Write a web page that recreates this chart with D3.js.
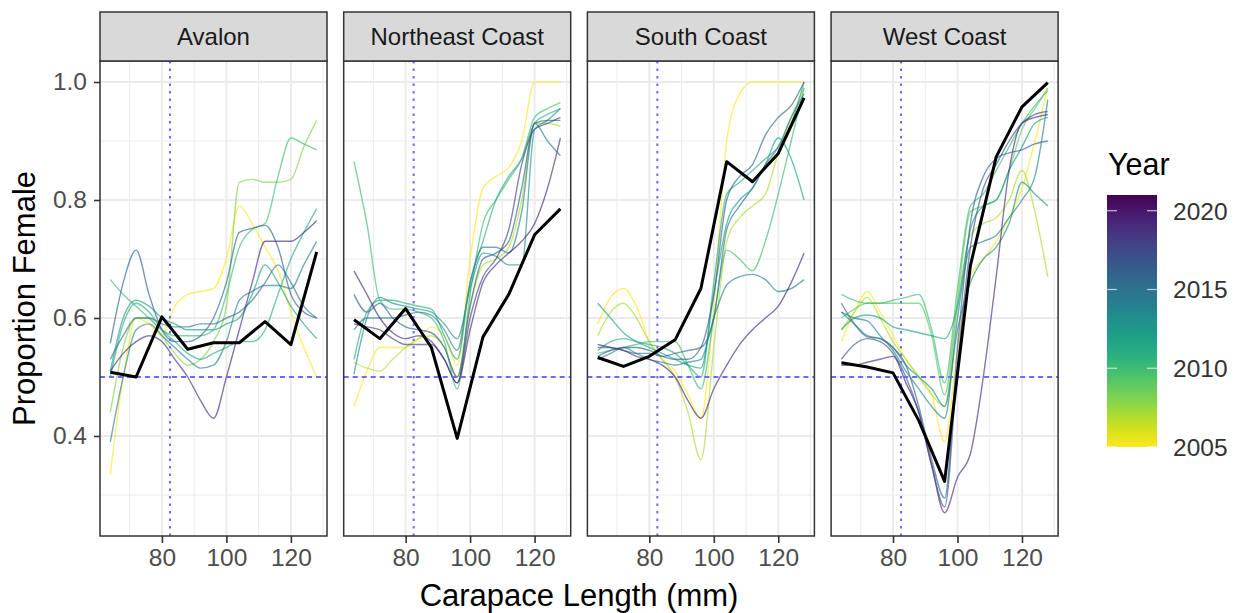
<!DOCTYPE html>
<html>
<head>
<meta charset="utf-8">
<script src="https://cdn.jsdelivr.net/npm/d3@7"></script>
<style>
  body { margin: 0; background: #fff; }
  svg { display: block; font-family: "Liberation Sans", Arial, sans-serif; }
</style>
</head>
<body>
<div id="chart"></div>
<script>
// carapace length bins
const lengthsByYear = [64, 68, 72, 76, 80, 84, 88, 92, 96, 100, 104, 108, 112, 116, 120, 124, 128];
const lengthsPooled = [64, 72, 80, 88, 96, 104, 112, 120, 128];

const regionNames = ["Avalon", "Northeast Coast", "South Coast", "West Coast"];

// Avalon
const avalonYears = [2005, 2008, 2010, 2011, 2012, 2014, 2015, 2016, 2019];
const avalonProps = [
  [0.335, 0.50, 0.60, 0.59, 0.57, 0.62, 0.64, 0.645, 0.65, 0.70, 0.79, 0.76, 0.72, 0.68, 0.61, 0.55, 0.50],
  [0.44, 0.55, 0.60, 0.60, 0.57, 0.54, 0.52, 0.53, 0.56, 0.62, 0.83, 0.835, 0.83, 0.83, 0.835, 0.89, 0.935],
  [0.665, 0.64, 0.62, 0.60, 0.58, 0.57, 0.57, 0.57, 0.58, 0.64, 0.72, 0.75, 0.76, 0.84, 0.905, 0.895, 0.885],
  [0.50, 0.59, 0.625, 0.61, 0.58, 0.56, 0.54, 0.53, 0.54, 0.55, 0.56, 0.56, 0.58, 0.64, 0.70, 0.745, 0.785],
  [0.51, 0.60, 0.63, 0.62, 0.60, 0.59, 0.58, 0.58, 0.58, 0.59, 0.60, 0.64, 0.69, 0.66, 0.62, 0.59, 0.565],
  [0.39, 0.50, 0.58, 0.59, 0.57, 0.55, 0.53, 0.515, 0.52, 0.56, 0.63, 0.645, 0.655, 0.655, 0.65, 0.69, 0.73],
  [0.53, 0.57, 0.60, 0.60, 0.59, 0.585, 0.585, 0.59, 0.59, 0.60, 0.61, 0.63, 0.66, 0.69, 0.66, 0.62, 0.60],
  [0.557, 0.66, 0.715, 0.64, 0.58, 0.56, 0.56, 0.57, 0.60, 0.66, 0.745, 0.752, 0.757, 0.72, 0.64, 0.61, 0.60],
  [0.51, 0.54, 0.56, 0.57, 0.56, 0.53, 0.50, 0.46, 0.43, 0.50, 0.58, 0.66, 0.73, 0.73, 0.73, 0.745, 0.765]
];
const avalonPooled = [0.508, 0.50, 0.602, 0.547, 0.558, 0.558, 0.594, 0.555, 0.712];

// Northeast Coast
const northeastYears = [2005, 2007, 2010, 2011, 2013, 2014, 2016, 2018, 2019];
const northeastProps = [
  [0.45, 0.51, 0.55, 0.55, 0.55, 0.565, 0.585, 0.57, 0.52, 0.70, 0.82, 0.84, 0.855, 0.90, 1.0, 1.0, 1.0],
  [0.525, 0.515, 0.51, 0.53, 0.55, 0.565, 0.57, 0.55, 0.50, 0.62, 0.69, 0.70, 0.72, 0.80, 0.93, 0.93, 0.925],
  [0.865, 0.76, 0.63, 0.615, 0.615, 0.61, 0.60, 0.56, 0.48, 0.64, 0.76, 0.80, 0.835, 0.87, 0.94, 0.955, 0.965],
  [0.53, 0.61, 0.63, 0.63, 0.625, 0.62, 0.615, 0.57, 0.53, 0.66, 0.73, 0.80, 0.84, 0.87, 0.93, 0.945, 0.955],
  [0.505, 0.60, 0.635, 0.625, 0.62, 0.615, 0.61, 0.59, 0.565, 0.65, 0.71, 0.705, 0.69, 0.69, 0.92, 0.935, 0.955],
  [0.58, 0.60, 0.60, 0.60, 0.605, 0.61, 0.605, 0.58, 0.545, 0.66, 0.72, 0.72, 0.71, 0.78, 0.93, 0.90, 0.875],
  [0.64, 0.61, 0.625, 0.60, 0.585, 0.58, 0.575, 0.55, 0.50, 0.62, 0.70, 0.71, 0.73, 0.82, 0.93, 0.935, 0.935],
  [0.59, 0.585, 0.58, 0.565, 0.555, 0.555, 0.555, 0.53, 0.49, 0.60, 0.67, 0.70, 0.75, 0.86, 0.92, 0.93, 0.94],
  [0.68, 0.64, 0.60, 0.575, 0.565, 0.57, 0.56, 0.53, 0.49, 0.58, 0.66, 0.69, 0.71, 0.73, 0.76, 0.82, 0.905]
];
const northeastPooled = [0.597, 0.565, 0.616, 0.55, 0.396, 0.568, 0.64, 0.741, 0.785];

// South Coast
const southYears = [2005, 2007, 2010, 2011, 2012, 2014, 2015, 2016, 2019];
const southProps = [
  [0.59, 0.635, 0.65, 0.62, 0.56, 0.53, 0.51, 0.47, 0.43, 0.62, 0.90, 0.98, 1.0, 1.0, 1.0, 1.0, 1.0],
  [0.57, 0.61, 0.625, 0.60, 0.56, 0.53, 0.50, 0.44, 0.36, 0.55, 0.73, 0.77, 0.79, 0.81, 0.88, 0.94, 0.99],
  [0.54, 0.545, 0.55, 0.555, 0.56, 0.56, 0.56, 0.52, 0.48, 0.60, 0.715, 0.70, 0.68, 0.73, 0.81, 0.90, 0.99],
  [0.545, 0.56, 0.565, 0.56, 0.555, 0.55, 0.54, 0.52, 0.50, 0.66, 0.81, 0.83, 0.85, 0.87, 0.89, 0.93, 1.0],
  [0.625, 0.60, 0.575, 0.56, 0.55, 0.54, 0.53, 0.52, 0.515, 0.64, 0.76, 0.80, 0.82, 0.86, 0.905, 0.87, 0.80],
  [0.53, 0.54, 0.55, 0.54, 0.53, 0.525, 0.52, 0.525, 0.53, 0.60, 0.656, 0.67, 0.674, 0.665, 0.645, 0.65, 0.665],
  [0.55, 0.55, 0.545, 0.54, 0.54, 0.535, 0.54, 0.545, 0.55, 0.60, 0.75, 0.79, 0.82, 0.86, 0.89, 0.94, 0.98],
  [0.535, 0.545, 0.55, 0.55, 0.545, 0.535, 0.53, 0.53, 0.55, 0.64, 0.80, 0.84, 0.86, 0.91, 0.94, 0.96, 1.0],
  [0.555, 0.55, 0.545, 0.535, 0.53, 0.52, 0.50, 0.46, 0.43, 0.48, 0.52, 0.555, 0.58, 0.60, 0.62, 0.66, 0.71]
];
const southPooled = [0.533, 0.518, 0.535, 0.563, 0.65, 0.865, 0.831, 0.879, 0.973];

// West Coast
const westYears = [2005, 2007, 2009, 2010, 2012, 2013, 2014, 2016, 2017, 2019];
const westProps = [
  [0.56, 0.61, 0.645, 0.61, 0.57, 0.53, 0.50, 0.47, 0.39, 0.55, 0.67, 0.70, 0.73, 0.77, 0.82, 0.90, 0.99],
  [0.58, 0.61, 0.635, 0.60, 0.56, 0.53, 0.50, 0.47, 0.45, 0.62, 0.74, 0.76, 0.77, 0.80, 0.85, 0.78, 0.67],
  [0.60, 0.615, 0.625, 0.625, 0.625, 0.625, 0.625, 0.57, 0.47, 0.63, 0.78, 0.79, 0.80, 0.85, 0.92, 0.955, 0.99],
  [0.64, 0.63, 0.625, 0.625, 0.63, 0.635, 0.64, 0.58, 0.49, 0.65, 0.79, 0.81, 0.85, 0.89, 0.93, 0.96, 0.985],
  [0.58, 0.60, 0.605, 0.60, 0.585, 0.58, 0.575, 0.57, 0.565, 0.62, 0.75, 0.79, 0.80, 0.85, 0.89, 0.93, 0.94],
  [0.61, 0.59, 0.57, 0.565, 0.55, 0.52, 0.50, 0.48, 0.45, 0.58, 0.66, 0.70, 0.72, 0.76, 0.83, 0.81, 0.79],
  [0.61, 0.60, 0.595, 0.57, 0.545, 0.51, 0.48, 0.45, 0.43, 0.60, 0.72, 0.73, 0.74, 0.77, 0.80, 0.84, 0.97],
  [0.625, 0.59, 0.568, 0.565, 0.55, 0.52, 0.45, 0.36, 0.295, 0.55, 0.76, 0.84, 0.87, 0.88, 0.885, 0.895, 0.90],
  [0.53, 0.555, 0.565, 0.56, 0.54, 0.50, 0.44, 0.35, 0.28, 0.52, 0.72, 0.82, 0.86, 0.90, 0.93, 0.945, 0.95],
  [0.52, 0.52, 0.525, 0.53, 0.535, 0.49, 0.44, 0.35, 0.27, 0.33, 0.37, 0.50, 0.67, 0.85, 0.93, 0.94, 0.945]
];
const westPooled = [0.524, 0.517, 0.507, 0.426, 0.323, 0.689, 0.873, 0.958, 0.999];

const xTicks = [80, 100, 120];
const yTicks = [0.4, 0.6, 0.8, 1.0];
const yMinorTicks = [0.3, 0.5, 0.7, 0.9];
const xMinorTicks = [70, 90, 110, 130];
const legendTicks = [2005, 2010, 2015, 2020];
const yearRange = [2005, 2021];
const maturityLength = 82.5;
const halfLine = 0.5;

// table built from the arrays above
const regions = [
  { name: regionNames[0], years: avalonYears, props: avalonProps, pooled: avalonPooled },
  { name: regionNames[1], years: northeastYears, props: northeastProps, pooled: northeastPooled },
  { name: regionNames[2], years: southYears, props: southProps, pooled: southPooled },
  { name: regionNames[3], years: westYears, props: westProps, pooled: westPooled }
];

const width = 1241, height = 613;
const panelLeft = 100, panelW = 227, panelStep = 243.7;
const stripTop = 12, stripH = 49;
const plotTop = stripTop + stripH, plotBottom = 536;

const svg = d3.select("#chart").append("svg")
  .attr("width", width).attr("height", height);

const x = d3.scaleLinear().domain([60.8, 131.2]).range([0, panelW]);
const y = d3.scaleLinear().domain([0.2305, 1.0356]).range([plotBottom, plotTop]);
const color = d3.scaleSequential(d3.interpolateViridis).domain([yearRange[1], yearRange[0]]);

const defs = svg.append("defs");
defs.append("clipPath").attr("id", "plotClip")
  .append("rect").attr("x", 0).attr("y", plotTop).attr("width", panelW).attr("height", plotBottom - plotTop);

const lineYear = d3.line().x((d) => x(d[0])).y((d) => y(d[1])).curve(d3.curveMonotoneX);
const linePooled = d3.line().x((d) => x(d[0])).y((d) => y(d[1]));

regions.forEach((r, i) => {
  const g = svg.append("g").attr("transform", `translate(${panelLeft + i * panelStep},0)`);

  // grid
  const grid = g.append("g");
  grid.selectAll(".ymin").data(yMinorTicks).join("line")
    .attr("x1", 0).attr("x2", panelW).attr("y1", (d) => y(d)).attr("y2", (d) => y(d))
    .attr("stroke", "#ebebeb").attr("stroke-width", 1);
  grid.selectAll(".xmin").data(xMinorTicks.filter((d) => x(d) < panelW)).join("line")
    .attr("y1", plotTop).attr("y2", plotBottom).attr("x1", (d) => x(d)).attr("x2", (d) => x(d))
    .attr("stroke", "#ebebeb").attr("stroke-width", 1);
  grid.append("g").selectAll("line").data(yTicks).join("line")
    .attr("x1", 0).attr("x2", panelW).attr("y1", (d) => y(d)).attr("y2", (d) => y(d))
    .attr("stroke", "#ebebeb").attr("stroke-width", 1.9);
  grid.append("g").selectAll("line").data(xTicks).join("line")
    .attr("y1", plotTop).attr("y2", plotBottom).attr("x1", (d) => x(d)).attr("x2", (d) => x(d))
    .attr("stroke", "#ebebeb").attr("stroke-width", 1.9);

  const plot = g.append("g").attr("clip-path", "url(#plotClip)");

  // yearly smoothed lines
  plot.selectAll("path.year").data(r.years.map((yr, k) => ({ year: yr, values: r.props[k] })))
    .join("path")
    .attr("class", "year")
    .attr("fill", "none")
    .attr("stroke", (d) => color(d.year))
    .attr("stroke-width", 1.4)
    .attr("stroke-opacity", 0.65)
    .attr("d", (d) => lineYear(lengthsByYear.map((l, k) => [l, d.values[k]])));

  // reference lines
  plot.append("line")
    .attr("x1", 0).attr("x2", panelW).attr("y1", y(halfLine)).attr("y2", y(halfLine))
    .attr("stroke", "#6b6bff").attr("stroke-width", 2).attr("stroke-dasharray", "5,4");
  plot.append("line")
    .attr("x1", x(maturityLength)).attr("x2", x(maturityLength)).attr("y1", plotTop).attr("y2", plotBottom)
    .attr("stroke", "#6b6bff").attr("stroke-width", 2).attr("stroke-dasharray", "2.5,5");

  // pooled line
  plot.append("path")
    .attr("fill", "none").attr("stroke", "#000").attr("stroke-width", 3)
    .attr("stroke-linejoin", "round")
    .attr("d", linePooled(lengthsPooled.map((l, k) => [l, r.pooled[k]])));

  // panel border
  g.append("rect").attr("x", 0).attr("y", plotTop).attr("width", panelW).attr("height", plotBottom - plotTop)
    .attr("fill", "none").attr("stroke", "#333").attr("stroke-width", 1.5);

  // strip
  g.append("rect").attr("x", 0).attr("y", stripTop).attr("width", panelW).attr("height", stripH)
    .attr("fill", "#d9d9d9").attr("stroke", "#333").attr("stroke-width", 1.5);
  g.append("text").attr("x", panelW / 2).attr("y", stripTop + stripH / 2 + 8.5)
    .attr("text-anchor", "middle").attr("font-size", 24).attr("fill", "#1a1a1a").text(r.name);

  // x axis
  const ax = g.append("g").attr("transform", `translate(0,${plotBottom})`)
    .call(d3.axisBottom(x).tickValues(xTicks).tickSize(7).tickPadding(6).tickFormat(d3.format("d")));
  ax.select(".domain").remove();
  ax.selectAll(".tick line").attr("stroke", "#333").attr("stroke-width", 1.6);
  ax.selectAll(".tick text").attr("font-size", 24.5).attr("fill", "#4d4d4d").attr("font-family", null);

  // y axis on first panel
  if (i === 0) {
    const ay = g.append("g")
      .call(d3.axisLeft(y).tickValues(yTicks).tickSize(6).tickPadding(7).tickFormat(d3.format(".1f")));
    ay.select(".domain").remove();
    ay.selectAll(".tick line").attr("stroke", "#333").attr("stroke-width", 1.6);
    ay.selectAll(".tick text").attr("font-size", 24.5).attr("fill", "#4d4d4d").attr("font-family", null);
  }
});

// axis titles
svg.append("text")
  .attr("x", (panelLeft + panelLeft + 3 * panelStep + panelW) / 2).attr("y", 606)
  .attr("text-anchor", "middle").attr("font-size", 31).attr("fill", "#000")
  .text("Carapace Length (mm)");
svg.append("text")
  .attr("transform", `translate(35,${(plotTop + plotBottom) / 2}) rotate(-90)`)
  .attr("text-anchor", "middle").attr("font-size", 31).attr("fill", "#000")
  .text("Proportion Female");

// legend
const barX = 1107, barW = 50, barTop = 195, barBottom = 447;
const legendY = d3.scaleLinear().domain(yearRange).range([barBottom, barTop]);
const grad = defs.append("linearGradient").attr("id", "yearGrad")
  .attr("x1", 0).attr("y1", 1).attr("x2", 0).attr("y2", 0);
d3.range(0, 1.0001, 0.05).forEach((t) => {
  grad.append("stop").attr("offset", t)
    .attr("stop-color", color(yearRange[0] + t * (yearRange[1] - yearRange[0])));
});
const legend = svg.append("g");
legend.append("text").attr("x", 1108).attr("y", 175).attr("font-size", 30.5).attr("fill", "#000").text("Year");
legend.append("rect").attr("x", barX).attr("y", barTop).attr("width", barW).attr("height", barBottom - barTop)
  .attr("fill", "url(#yearGrad)");
legend.selectAll("line.l").data(legendTicks).join("line")
  .attr("x1", barX).attr("x2", barX + 10).attr("y1", (d) => legendY(d)).attr("y2", (d) => legendY(d))
  .attr("stroke", "#fff").attr("stroke-opacity", 0.7).attr("stroke-width", 1.2);
legend.selectAll("line.r").data(legendTicks).join("line")
  .attr("x1", barX + barW - 10).attr("x2", barX + barW).attr("y1", (d) => legendY(d)).attr("y2", (d) => legendY(d))
  .attr("stroke", "#fff").attr("stroke-opacity", 0.7).attr("stroke-width", 1.2);
legend.selectAll("text.lab").data(legendTicks).join("text")
  .attr("class", "lab")
  .attr("x", 1173).attr("y", (d) => legendY(d)).attr("dy", "0.36em")
  .attr("font-size", 24.5).attr("fill", "#333").text((d) => d);
</script>
</body>
</html>
